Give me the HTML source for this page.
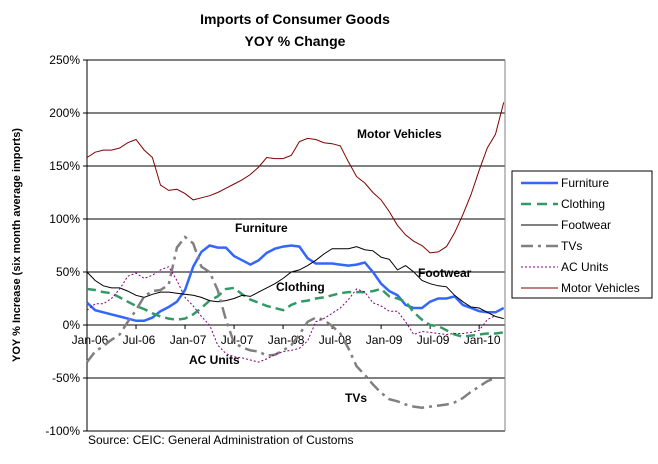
<!DOCTYPE html>
<html><head><meta charset="utf-8"><style>
body{margin:0;background:#fff;}
svg text{font-family:"Liberation Sans",Arial,sans-serif;}
</style></head><body>
<svg id="chart" width="658" height="459" viewBox="0 0 658 459">
<text x="295" y="24" font-size="14" font-weight="bold" text-anchor="middle">Imports of Consumer Goods</text>
<text x="295" y="46" font-size="14" font-weight="bold" text-anchor="middle">YOY % Change</text>
<text transform="translate(20,245) rotate(-90)" font-size="11" font-weight="bold" text-anchor="middle">YOY % Increase (six month average imports)</text>
<text x="88" y="444" font-size="12">Source: CEIC: General Administration of Customs</text>
<g id="grid"></g>
<g id="series"></g>
<g id="labels" font-size="12" font-weight="bold">
<text x="357" y="138">Motor Vehicles</text>
<text x="235" y="232">Furniture</text>
<text x="418" y="277">Footwear</text>
<text x="276" y="291">Clothing</text>
<text x="189" y="364">AC Units</text>
<text x="345" y="402">TVs</text>
</g>
<g id="legend">
<rect x="512" y="171" width="140" height="127" fill="#fff" stroke="#000" stroke-width="1"/>
</g>
</svg>
<script>
const xLabels=["Jan-06","Jul-06","Jan-07","Jul-07","Jan-08","Jul-08","Jan-09","Jul-09","Jan-10"];
const yTicks=[250,200,150,100,50,0,-50,-100];
const seriesNames=["Furniture","Clothing","Footwear","TVs","AC Units","Motor Vehicles"];
const furniture=[21,14,12,10,8,6,4,4,7,13,17,22,33,55,69,75,73,73,65,61,57,61,68,72,74,75,74,63,58,58,58,57,56,57,59,50,39,32,28,19,16,16,22,25,25,27,19,16,13,12,12,16];
const clothing=[34,33,31,30,26,22,18,15,11,8,6,5,6,10,16,23,27,34,35,29,24,21,18,16,14,19,22,23,25,26,28,30,31,31,31,32,34,27,25,22,12,5,0,-1,-5,-9,-11,-10,-9,-8,-8,-7];
const footwear=[50,42,37,35,35,32,28,26,29,31,31,30,29,28,26,23,22,23,25,28,27,31,35,39,44,50,52,56,61,67,72,72,72,74,71,70,64,62,52,56,50,42,39,37,36,28,22,17,16,12,8,6];
const tvs=[-35,-25,-20,-14,-9,3,14,27,32,33,38,73,83,77,55,50,33,5,-17,-21,-24,-25,-29,-28,-24,-19,-9,3,7,5,-1,-8,-22,-39,-47,-56,-64,-70,-72,-75,-77,-78,-77,-76,-75,-73,-69,-63,-58,-53,-50];
const acUnits=[14,20,20,25,34,46,49,44,47,52,55,42,26,18,8,0,-19,-27,-30,-31,-33,-35,-32,-28,-25,-24,-22,-15,3,6,11,16,24,34,31,21,18,13,13,3,-9,-6,-7,-8,-9,-8,-8,-7,-5,5,9];
const motorVehicles=[158,163,165,165,167,172,175,165,158,132,127,128,124,118,120,122,125,129,133,137,142,149,158,157,157,160,173,176,175,172,171,169,154,140,134,125,118,107,94,85,79,75,68,69,74,87,104,123,146,167,180,210];

const NS="http://www.w3.org/2000/svg";
const X0=87,DX=8.17,Y0=325,PXP=1.06;
function xs(i){return X0+i*DX;}
function ys(v){return Y0-v*PXP;}
const grid=document.getElementById('grid');
yTicks.forEach(v=>{
  const l=document.createElementNS(NS,'line');
  l.setAttribute('x1',X0);l.setAttribute('x2',505);l.setAttribute('y1',ys(v));l.setAttribute('y2',ys(v));
  l.setAttribute('stroke','#000');l.setAttribute('stroke-width','1');
  
  
  grid.appendChild(l);
  const tk=document.createElementNS(NS,'line');
  tk.setAttribute('x1',X0-4);tk.setAttribute('x2',X0);tk.setAttribute('y1',ys(v));tk.setAttribute('y2',ys(v));tk.setAttribute('stroke','#000');
  
  
  grid.appendChild(tk);
  const t=document.createElementNS(NS,'text');
  t.setAttribute('x',X0-7);t.setAttribute('y',ys(v)+4);t.setAttribute('font-size','12');t.setAttribute('text-anchor','end');
  t.textContent=v+'%';
  
  
  grid.appendChild(t);
});
const ax=document.createElementNS(NS,'line');
ax.setAttribute('x1',X0);ax.setAttribute('x2',X0);ax.setAttribute('y1',ys(250));ax.setAttribute('y2',ys(-100));ax.setAttribute('stroke','#000');


grid.appendChild(ax);
const rb=document.createElementNS(NS,'line');
rb.setAttribute('x1',505);rb.setAttribute('x2',505);rb.setAttribute('y1',ys(250));rb.setAttribute('y2',ys(-100));rb.setAttribute('stroke','#808080');


grid.appendChild(rb);
xLabels.forEach((s,k)=>{
  const x=xs(k*6);
  const tk=document.createElementNS(NS,'line');
  tk.setAttribute('x1',x);tk.setAttribute('x2',x);tk.setAttribute('y1',Y0);tk.setAttribute('y2',Y0+4);tk.setAttribute('stroke','#000');
  
  
  grid.appendChild(tk);
  const t=document.createElementNS(NS,'text');
  t.setAttribute('x',x+3);t.setAttribute('y',Y0+19);t.setAttribute('font-size','12');t.setAttribute('text-anchor','middle');
  t.textContent=s;
  
  
  grid.appendChild(t);
});
const styles=[
 {data:furniture,color:'#3366ff',w:2.5,dash:''},
 {data:clothing,color:'#339966',w:2.5,dash:'9,5'},
 {data:footwear,color:'#000',w:1,dash:''},
 {data:tvs,color:'#808080',w:2.5,dash:'12,5,3,5'},
 {data:acUnits,color:'#800080',w:1,dash:'2,2'},
 {data:motorVehicles,color:'#800000',w:1,dash:''}
];
const sg=document.getElementById('series');
styles.forEach((s,k)=>{
  const p=document.createElementNS(NS,'path');
  p.setAttribute('d',s.data.map((v,i)=>(i?'L':'M')+xs(i).toFixed(1)+','+ys(v).toFixed(1)).join(''));
  p.setAttribute('fill','none');p.setAttribute('stroke',s.color);p.setAttribute('stroke-width',s.w);
  if(s.dash)p.setAttribute('stroke-dasharray',s.dash);
  
  
  sg.appendChild(p);
});
const lg=document.getElementById('legend');
seriesNames.forEach((n,k)=>{
  const s=styles[k];const y=183+k*21;
  const l=document.createElementNS(NS,'line');
  l.setAttribute('x1',521);l.setAttribute('x2',558);l.setAttribute('y1',y);l.setAttribute('y2',y);
  l.setAttribute('stroke',s.color);l.setAttribute('stroke-width',s.w===2.5?2.5:1);
  if(s.dash)l.setAttribute('stroke-dasharray',k===1?'10,6':(k===3?'12,5,3,5':'2,2'));
  
  
  lg.appendChild(l);
  const t=document.createElementNS(NS,'text');
  t.setAttribute('x',561);t.setAttribute('y',y+4);t.setAttribute('font-size','12');
  t.textContent=n;
  
  
  lg.appendChild(t);
});
</script>
</body></html>
